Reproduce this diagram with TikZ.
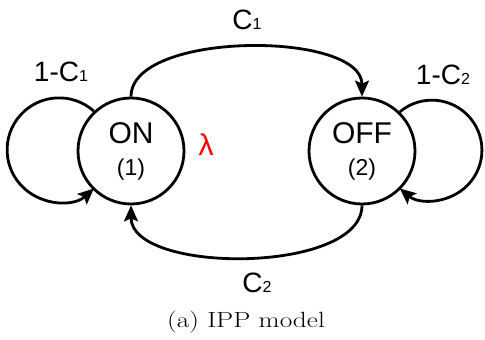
\documentclass[tikz,border=0pt]{standalone}
\usepackage{fontspec}
\newfontfamily\arial{Liberation Sans}
\usetikzlibrary{arrows.meta}
% small digit set on the baseline, used for the indices
\newcommand\idx[1]{{\fontsize{16}{16}\selectfont #1}}
% two centred lines: state name over its number
\newcommand\statetext[2]{\vbox{\baselineskip=32pt\lineskiplimit=-100pt
  \halign{\hfil##\hfil\cr\fontsize{30}{30}\selectfont #1\cr
  \fontsize{23}{23}\selectfont #2\cr}}}
\begin{document}
\begin{tikzpicture}[x=1pt,y=1pt,
  state/.style={circle, draw, line width=2.8pt, minimum size=106pt, inner sep=0pt,
    font=\arial},
  edge/.style={line width=2.8pt, -{Stealth[length=16pt,width=14pt,inset=3pt]}},
  lbl/.style={font=\arial\fontsize{28}{30}\selectfont, inner sep=0pt, anchor=base}]
\useasboundingbox (0,0) rectangle (485,340);

% the two states
\node[state] (on) at (131,189) {\statetext{ON}{(1)}};
\node[state] (off) at (362,189) {\statetext{OFF}{(2)}};

% transitions between the states
\draw[edge] (on.north) .. controls +(0,66) and +(0,66) .. (off.north);
\draw[edge] (off.south) .. controls +(0,-69) and +(0,-69) .. (on.south);

% self loops
\draw[edge] (on.133) arc[start angle=48, end angle=312, radius=52];
\draw[edge] (off.46) arc[start angle=130, end angle=-130, radius=50];

% transition labels
\node[lbl] (c1) at (247,310) {C\idx{1}};
\node[lbl] (c2) at (257,47) {C\idx{2}};
\node[lbl] (stay1) at (61,258) {1-C\idx{1}};
\node[lbl] (stay2) at (443,255) {1-C\idx{2}};

% rate of the ON state
\node[font=\arial\fontsize{30}{30}\selectfont, text=red, inner sep=0pt] (rate) at (206,195) {λ};

% caption
\node[anchor=base, inner sep=0pt] (cap) at (246,12)
  {\scalebox{1.24}[1]{\fontsize{22}{24}\selectfont (a) IPP model}};
\end{tikzpicture}
\end{document}
